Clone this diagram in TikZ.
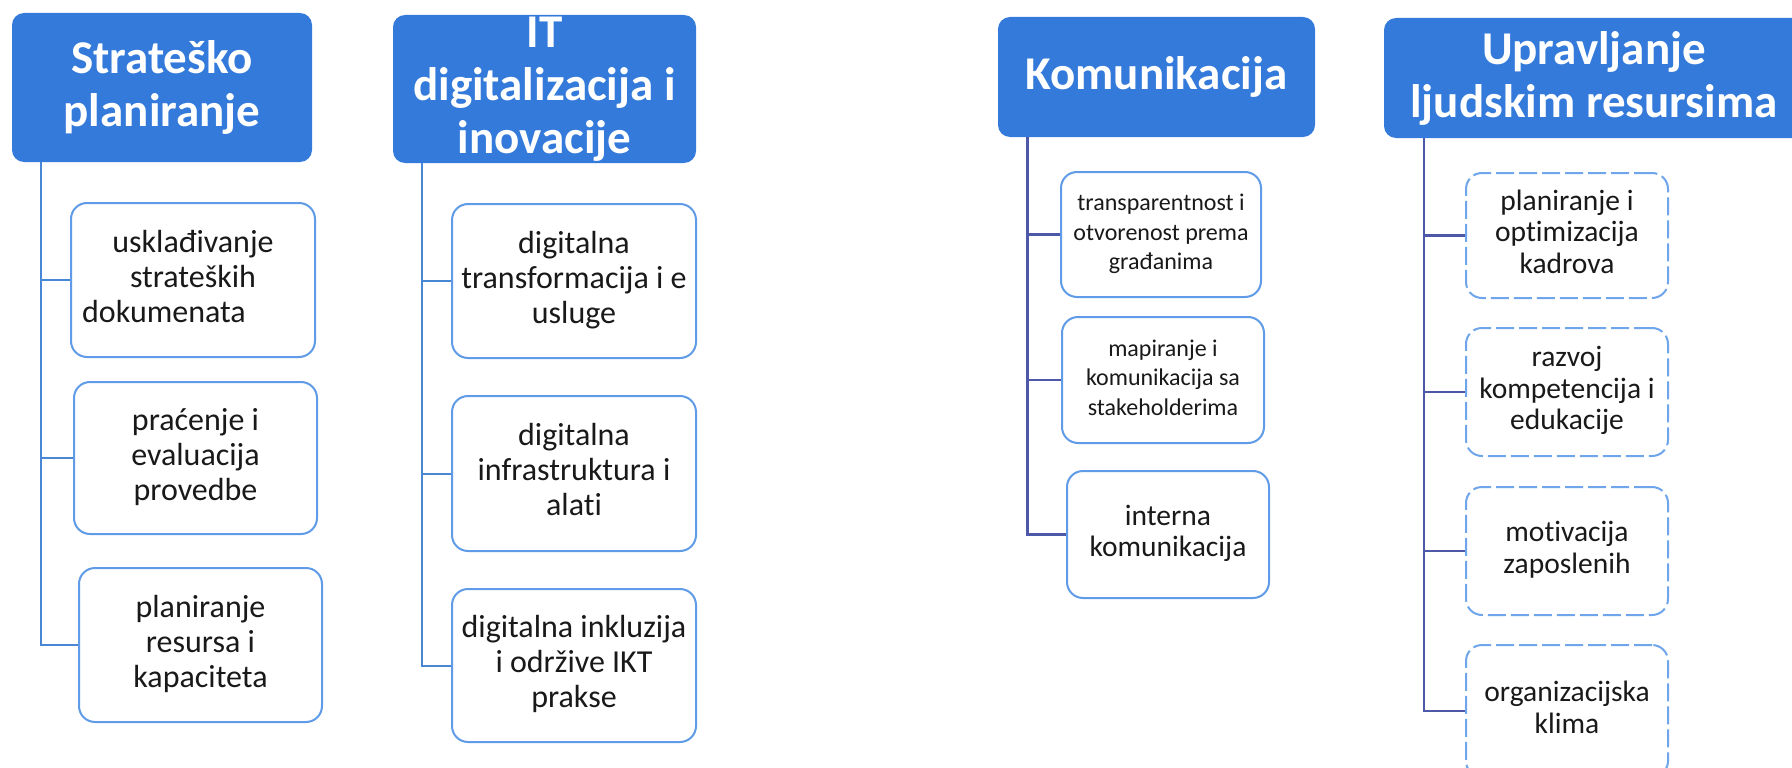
\documentclass[tikz,border=0pt]{standalone}
\usepackage{fontspec}
\setmainfont{Carlito}[Ligatures={NoCommon,TeX}]
\definecolor{hdrblue}{RGB}{52,122,218}
\definecolor{boxblue}{RGB}{95,155,230}
\definecolor{boxblue4}{RGB}{110,165,235}
\definecolor{connA}{RGB}{74,134,214}
\definecolor{connB}{RGB}{78,88,168}
\definecolor{txt}{RGB}{25,25,25}
\begin{document}
\begin{tikzpicture}[x=1pt,y=-1pt,
  hdr/.style={fill=hdrblue, rounded corners=12pt, inner sep=0pt, outer sep=0pt, text=white,
    font=\fontsize{47}{53}\selectfont\bfseries, align=center},
  cbox/.style={draw=boxblue, line width=2pt, rounded corners=16pt, fill=white, inner sep=0pt,
    align=center, text=txt},
  cbox4/.style={cbox, draw=boxblue4, dash pattern=on 18pt off 5pt},
  sz/.style 2 args={minimum width=#1pt, minimum height=#2pt},
  ftA/.style={font=\fontsize{32}{35}\selectfont},
  ftS/.style={font=\fontsize{24}{29.5}\selectfont},
  ftM/.style={font=\fontsize{29.5}{31.5}\selectfont},
  linkA/.style={draw=connA, line width=2pt},
  linkB/.style={draw=connB, line width=2.5pt}
]
\useasboundingbox (0,0) rectangle (1792,768);
\fill[white] (0,0) rectangle (1792,768);
\clip (0,0) rectangle (1792,768);

% headers
\node[hdr, sz={300}{149}] (h1) at (162,87.5) {Strateško\\planiranje};
\node[hdr, sz={303}{148}] (h2) at (544.5,89) {IT\\digitalizacija i\\inovacije};
\node[hdr, sz={317}{120}] (h3) at (1156.5,77) {Komunikacija};
\node[hdr, sz={420}{120}] (h4) at (1594,78) {Upravljanje\\ljudskim resursima};

% group 1
\node[cbox, ftA, sz={244}{154}] (c11) at (193,280)
  {\strut usklađivanje\\\strut strateških\\\strut dokumenata\rule{58pt}{0pt}};
\node[cbox, ftA, sz={243}{152}] (c12) at (195.5,458)
  {\strut praćenje i\\\strut evaluacija\\\strut provedbe};
\node[cbox, ftA, sz={243}{154}] (c13) at (200.5,645)
  {\strut planiranje\\\strut resursa i\\\strut kapaciteta};

% group 2
\node[cbox, ftA, sz={244}{154}] (c21) at (574,281)
  {\strut digitalna\\\strut transformacija i e\\\strut usluge};
\node[cbox, ftA, sz={244}{155}] (c22) at (574,473.5)
  {\strut digitalna\\\strut infrastruktura i\\\strut alati};
\node[cbox, ftA, sz={244}{153}] (c23) at (574,665.5)
  {\strut digitalna inkluzija\\\strut i održive IKT\\\strut prakse};

% group 3
\node[cbox, ftS, sz={200}{125}] (c31) at (1161,234.5)
  {\strut transparentnost i\\\strut otvorenost prema\\\strut građanima};
\node[cbox, ftS, sz={202}{126}] (c32) at (1163,380)
  {\strut mapiranje i\\\strut komunikacija sa\\\strut stakeholderima};
\node[cbox, ftM, sz={202}{127}] (c33) at (1168,534.5)
  {\strut interna\\\strut komunikacija};

% group 4
\node[cbox4, ftM, sz={202}{125}] (c41) at (1567,235.5)
  {\strut planiranje i\\\strut optimizacija\\\strut kadrova};
\node[cbox4, ftM, sz={202}{128}] (c42) at (1567,392)
  {\strut razvoj\\\strut kompetencija i\\\strut edukacije};
\node[cbox4, ftM, sz={202}{128}] (c43) at (1567,551)
  {\strut motivacija\\\strut zaposlenih};
\node[cbox4, ftM, sz={202}{132}] (c44) at (1567,711)
  {\strut organizacijska\\\strut klima};

% connectors
\foreach \c in {c11,c12,c13} \draw[linkA] ([xshift=29pt]h1.south west) |- (\c.west);
\foreach \c in {c21,c22,c23} \draw[linkA] ([xshift=29pt]h2.south west) |- (\c.west);
\foreach \c in {c31,c32,c33} \draw[linkB] ([xshift=29.5pt]h3.south west) |- (\c.west);
\foreach \c in {c41,c42,c43,c44} \draw[linkB] ([xshift=40pt]h4.south west) |- (\c.west);
\end{tikzpicture}
\end{document}
